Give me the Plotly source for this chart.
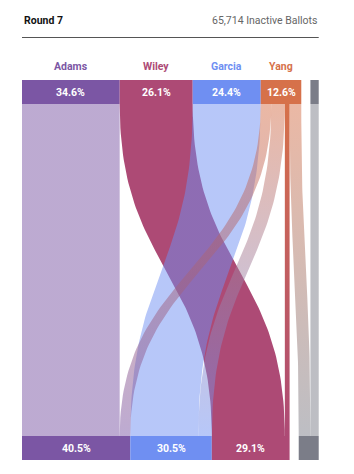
import numpy as np
import plotly.graph_objects as go

# ---------------- data ----------------
round_label = "Round 7"
candidates_r7 = ["Adams", "Wiley", "Garcia", "Yang"]
retained_r7 = [321000, 240000, 223500, 0]          # votes staying with same candidate
pct_r7 = ["34.6%", "26.1%", "24.4%", "12.6%"]
eliminated = "Yang"
transfer_to = ["Adams", "Garcia", "Wiley", "Inactive"]
transfer_votes = [34800, 44400, 15600, 38400]
inactive_prev = 27314

candidates_r8 = ["Adams", "Garcia", "Wiley"]
pct_r8 = ["40.5%", "30.5%", "29.1%"]

colors = {
    "Adams": (123, 86, 164),
    "Wiley": (173, 74, 117),
    "Garcia": (111, 143, 242),
    "Yang": (214, 113, 74),
    "Inactive": (123, 125, 136),
}

# ---------------- layout constants ----------------
W, H = 354, 474
VPP = 3286            # votes per pixel
LEFT_PX = 22
GAP = 30000           # gap (votes) before inactive column
TOP_BAR = (80, 104)
BOT_BAR = (436, 460)
FONT = "Roboto, Liberation Sans, Arial, sans-serif"


def rgba(c, a):
    return f"rgba({c[0]},{c[1]},{c[2]},{a})"


# round 7 totals
tot_r7 = {c: v for c, v in zip(candidates_r7, retained_r7)}
tot_r7[eliminated] = sum(transfer_votes)
# round 8 totals
tot_r8 = {c: tot_r7[c] for c in candidates_r8}
for d, v in zip(transfer_to, transfer_votes):
    if d in tot_r8:
        tot_r8[d] += v
inactive_r8 = inactive_prev + dict(zip(transfer_to, transfer_votes))["Inactive"]

# positions top
top_pos = {}
x = 0
for c in candidates_r7:
    top_pos[c] = (x, x + tot_r7[c])
    x += tot_r7[c]
x += GAP
top_pos["Inactive"] = (x, x + inactive_prev)
right_edge = x + inactive_prev

bot_pos = {}
x = 0
for c in candidates_r8:
    bot_pos[c] = (x, x + tot_r8[c])
    x += tot_r8[c]
x += GAP
bot_pos["Inactive"] = (x, x + inactive_r8)

fig = go.Figure()


def band(x0a, x0b, x1a, x1b, y0, y1, n=80):
    t = np.linspace(0, 1, n)
    ym = (y0 + y1) / 2
    yy = (1 - t) ** 3 * y0 + 3 * (1 - t) ** 2 * t * ym + 3 * (1 - t) * t ** 2 * ym + t ** 3 * y1

    def xs(a, b):
        return (1 - t) ** 3 * a + 3 * (1 - t) ** 2 * t * a + 3 * (1 - t) * t ** 2 * b + t ** 3 * b

    left = xs(x0a, x1a)
    right = xs(x0b, x1b)
    X = np.concatenate([left, right[::-1], left[:1]])
    Y = np.concatenate([yy, yy[::-1], yy[:1]])
    return X, Y


def add_flow(x0a, x0b, x1a, x1b, c_top, c_bot):
    X, Y = band(x0a, x0b, x1a, x1b, TOP_BAR[1], BOT_BAR[0])
    fig.add_trace(go.Scatter(
        x=X, y=Y, mode="lines", line=dict(width=0), fill="toself",
        fillgradient=dict(type="vertical", start=TOP_BAR[1], stop=BOT_BAR[0],
                          colorscale=[[0, c_top], [1, c_bot]]),
        hoverinfo="skip", showlegend=False))


# retained flows (order: Adams, Wiley, Garcia)
alpha = {"Adams": 0.5, "Wiley": 1.0, "Garcia": 0.5, "Inactive": 0.5}
for c in ["Adams", "Wiley", "Garcia"]:
    a, b = top_pos[c]
    ba = bot_pos[c][0]
    col = rgba(colors[c], alpha[c])
    add_flow(a, b, ba, ba + (b - a), col, col)

# transfers from eliminated
xs0 = top_pos[eliminated][0]
for d, v in zip(transfer_to, transfer_votes):
    if d == "Inactive":
        ba = bot_pos[d][0]
    else:
        ba = bot_pos[d][0] + tot_r7[d]
    al = alpha[d]
    add_flow(xs0, xs0 + v, ba, ba + v, rgba(colors[eliminated], al), rgba(colors[d], al))
    xs0 += v

# inactive carry-over
a, b = top_pos["Inactive"]
ba = bot_pos["Inactive"][1] - inactive_prev
col = rgba(colors["Inactive"], 0.5)
add_flow(a, b, ba, ba + inactive_prev, col, col)


def add_bar(a, b, y0, y1, col):
    fig.add_trace(go.Scatter(
        x=[a, b, b, a, a], y=[y0, y0, y1, y1, y0], mode="lines", line=dict(width=0),
        fill="toself", fillcolor=rgba(col, 1), hoverinfo="skip", showlegend=False))


ann = []
for c, p in zip(candidates_r7, pct_r7):
    a, b = top_pos[c]
    add_bar(a, b, *TOP_BAR, colors[c])
    ann.append(dict(x=(a + b) / 2, y=(TOP_BAR[0] + TOP_BAR[1]) / 2, text=p, showarrow=False,
                    font=dict(family=FONT, size=10.5, color="white", weight=700)))
    ann.append(dict(x=(a + b) / 2, y=66, text=c, showarrow=False,
                    font=dict(family=FONT, size=10.5, color=rgba(colors[c], 1), weight=700)))
add_bar(*top_pos["Inactive"], *TOP_BAR, colors["Inactive"])

for c, p in zip(candidates_r8, pct_r8):
    a, b = bot_pos[c]
    add_bar(a, b, *BOT_BAR, colors[c])
    ann.append(dict(x=(a + b) / 2, y=(BOT_BAR[0] + BOT_BAR[1]) / 2, text=p, showarrow=False,
                    font=dict(family=FONT, size=10.5, color="white", weight=700)))
add_bar(*bot_pos["Inactive"], *BOT_BAR, colors["Inactive"])

ann.append(dict(x=0, y=20, text=round_label, showarrow=False, xanchor="left",
                font=dict(family=FONT, size=10.5, color="#121212", weight=700)))
ann.append(dict(x=right_edge, y=20, text=f"{inactive_r8:,} Inactive Ballots", showarrow=False,
                xanchor="right", font=dict(family=FONT, size=10.5, color="#666666")))

fig.add_shape(type="line", x0=0, x1=right_edge, y0=37.5, y1=37.5,
              line=dict(color="#555555", width=1))

fig.update_layout(
    width=W, height=H, margin=dict(l=0, r=0, t=0, b=0),
    paper_bgcolor="white", plot_bgcolor="white",
    xaxis=dict(range=[-LEFT_PX * VPP, (W - LEFT_PX) * VPP], visible=False, fixedrange=True),
    yaxis=dict(range=[H, 0], visible=False, fixedrange=True),
    annotations=ann, showlegend=False,
)

fig.write_html("out.html")
